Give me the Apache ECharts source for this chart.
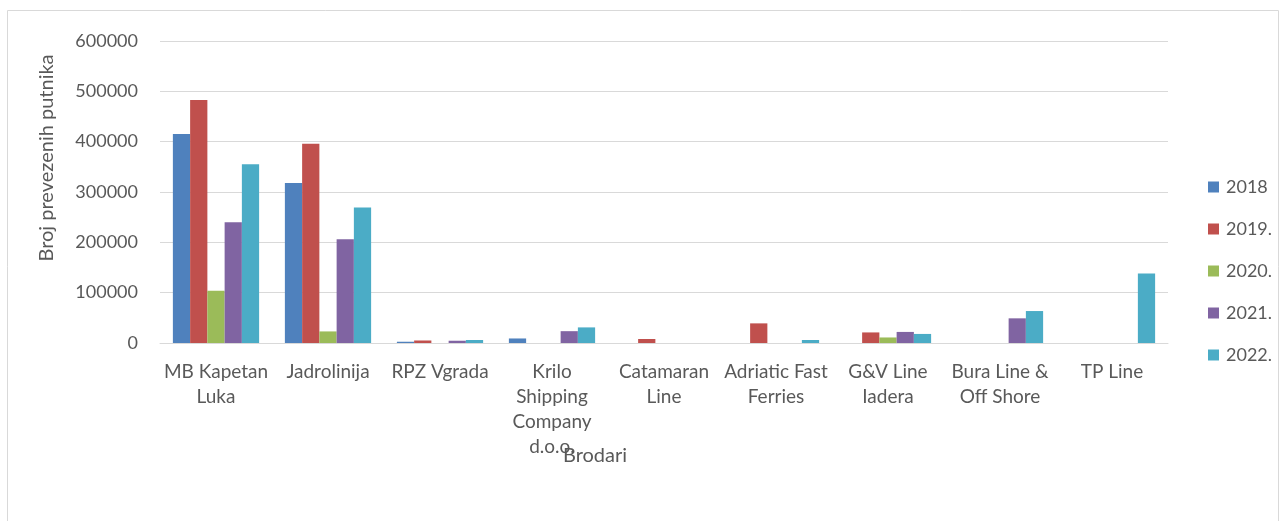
<!DOCTYPE html>
<html><head><meta charset="utf-8">
<script src="https://cdn.jsdelivr.net/npm/echarts@6/dist/echarts.min.js"></script>
<style>html,body{margin:0;padding:0;background:#fff}#c{width:1286px;height:521px}</style>
</head><body><div id="c"></div>
<script>
const categories = ["MB Kapetan\nLuka","Jadrolinija","RPZ Vgrada","Krilo\nShipping\nCompany\nd.o.o.","Catamaran\nLine","Adriatic Fast\nFerries","G&V Line\nIadera","Bura Line &\nOff Shore","TP Line"];
const seriesNames = ["2018","2019.","2020.","2021.","2022."];
const s2018 = [415000,318000,2500,9000,0,0,0,0,0];
const s2019 = [483000,396000,5000,0,8000,39000,21000,0,0];
const s2020 = [104000,23000,0,0,0,0,11000,0,0];
const s2021 = [240000,206000,4500,23500,0,0,22000,49000,0];
const s2022 = [355000,269000,6000,31000,0,6000,18000,63500,138000];
const colors = ["#4f81bd","#c0504d","#9bbb59","#8064a2","#4bacc6"];
const values = [s2018,s2019,s2020,s2021,s2022];
const font = "Lato, 'Open Sans', sans-serif";
const txt = '#595959';
const chart = echarts.init(document.getElementById('c'));
chart.setOption({
  animation:false,
  graphic:[
    {type:'rect',shape:{x:7.5,y:10.5,width:1271,height:520},style:{fill:'none',stroke:'#d9d9d9',lineWidth:1}},
    {type:'text',x:595,y:456,style:{text:'Brodari',fill:txt,fontSize:20,fontFamily:font,textAlign:'center',textVerticalAlign:'middle'}},
    {type:'text',x:47,y:158,rotation:Math.PI/2,style:{text:'Broj prevezenih putnika',fill:txt,fontSize:20,fontFamily:font,textAlign:'center',textVerticalAlign:'middle'}}
  ],
  grid:{left:160,right:118,top:41,bottom:178},
  legend:{orient:'vertical',left:1203,top:173,itemWidth:11,itemHeight:11,itemGap:24,icon:'rect',
    textStyle:{fontFamily:font,fontSize:18,color:txt,padding:[0,0,0,2]},data:seriesNames},
  xAxis:{type:'category',data:categories,
    axisLine:{lineStyle:{color:'#d9d9d9',width:1}},axisTick:{show:false},
    axisLabel:{interval:0,fontFamily:font,fontSize:19,color:txt,lineHeight:25,margin:16}},
  yAxis:{type:'value',min:0,max:600000,interval:100000,
    axisLine:{show:false},axisTick:{show:false},
    splitLine:{lineStyle:{color:'#d9d9d9',width:1}},
    axisLabel:{fontFamily:font,fontSize:18,color:txt,margin:22,formatter:v=>String(v)}},
  series:seriesNames.map((n,i)=>({name:n,type:'bar',data:values[i],barGap:'0%',barCategoryGap:'23%',
    itemStyle:{color:colors[i]}}))
});
</script></body></html>
